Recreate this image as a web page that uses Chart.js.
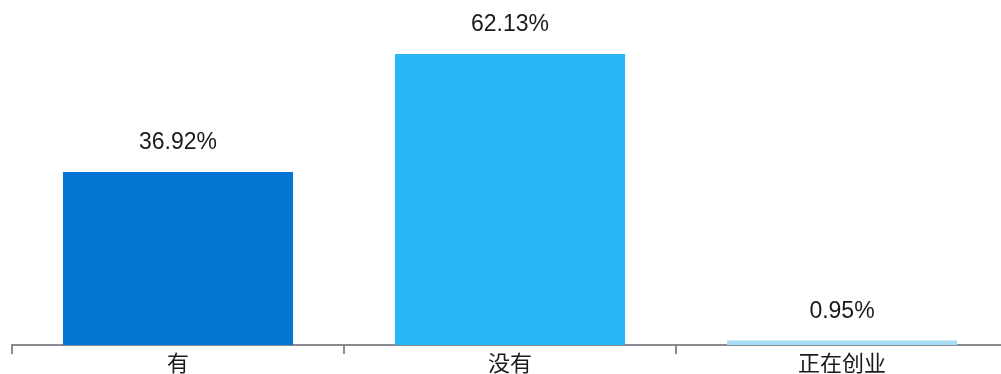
<!DOCTYPE html>
<html>
<head>
<meta charset="utf-8">
<script src="https://cdn.jsdelivr.net/npm/chart.js@4"></script>
<style>
  body { margin: 0; background: #fff; overflow: hidden; }
  #marco { width: 1001px; height: 374px; overflow: hidden; }
</style>
</head>
<body>
<div id="marco">
  <!-- el lienzo es algo más ancho: el eje continúa fuera del borde derecho -->
  <canvas id="barras" width="1009" height="374"></canvas>
</div>
<script>
const categorias = ["有", "没有", "正在创业"];
const porcentajes = [36.92, 62.13, 0.95];
const colores = ["#0576d4", "#29b6f6", "#a6dcf5"];

const fuente = "'Liberation Sans', Arial, 'Noto Sans CJK SC', sans-serif";

// etiquetas de porcentaje encima de cada barra
const etiquetas = {
  id: "etiquetas",
  afterDatasetsDraw(chart) {
    const ctx = chart.ctx;
    const meta = chart.getDatasetMeta(0);
    ctx.save();
    ctx.font = "23px " + fuente;
    ctx.fillStyle = "#1a1a1a";
    ctx.textAlign = "center";
    ctx.textBaseline = "middle";
    meta.data.forEach(function (bar, i) {
      ctx.fillText(porcentajes[i].toFixed(2) + "%", bar.x, bar.y - 29);
    });
    ctx.restore();
  },
};

const ctx = document.getElementById("barras");
new Chart(ctx, {
  type: "bar",
  data: {
    labels: categorias,
    datasets: [
      {
        label: "porcentaje",
        data: porcentajes,
        backgroundColor: colores,
        borderWidth: 0,
        barPercentage: 0.693,
        categoryPercentage: 1,
      },
    ],
  },
  options: {
    responsive: false,
    animation: false,
    layout: {
      padding: { top: 17, left: 12, right: 1, bottom: 0 },
    },
    plugins: {
      legend: { display: false },
      tooltip: { enabled: false },
    },
    scales: {
      x: {
        grid: {
          display: true,
          drawOnChartArea: false,
          drawTicks: true,
          tickLength: 9,
          lineWidth: 2,
          color: "#8a8a90",
          offset: true,
        },
        border: { display: true, color: "#8a8a90", width: 2 },
        ticks: {
          color: "#1a1a1a",
          padding: -2,
          font: { size: 22, family: fuente },
        },
        afterFit(scale) {
          scale.height = 29;
        },
      },
      y: {
        display: false,
        min: 0,
        max: 70,
      },
    },
  },
  plugins: [etiquetas],
});
</script>
</body>
</html>
